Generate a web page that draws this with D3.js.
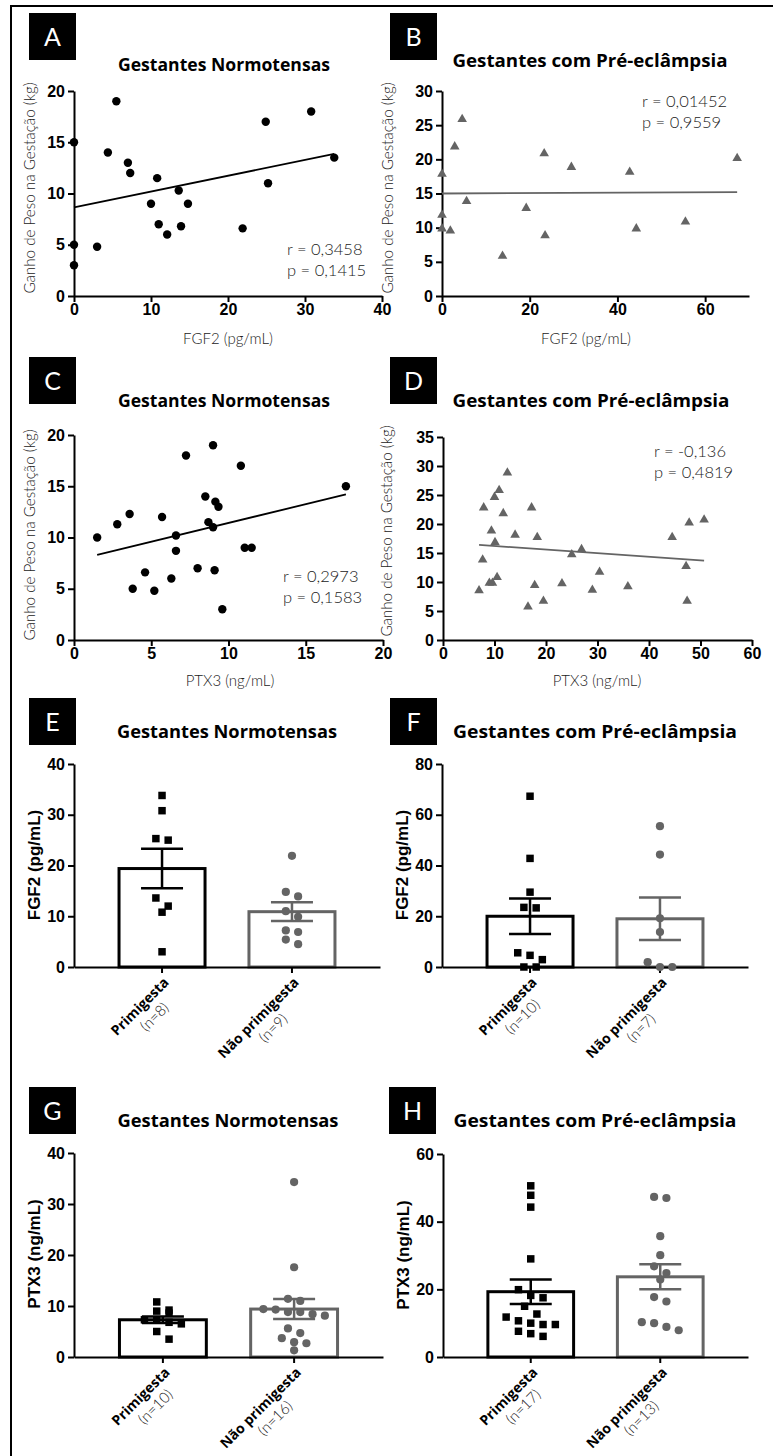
<!DOCTYPE html>
<html>
<head>
<meta charset="utf-8">
<title>FGF2 e PTX3 em gestantes</title>
<script src="https://d3js.org/d3.v7.min.js"></script>
<style>
  body { margin: 0; background: #fff; }
  svg { display: block; }
</style>
</head>
<body>
<svg id="grafico" width="773" height="1456"></svg>
<script>
// ---- dados ----
// A: FGF2 x ganho de peso (normotensas)
const fgf2Normo = [0, 0, 0, 3.0, 4.4, 5.5, 7.0, 7.3, 10.0, 10.8, 11.0, 12.1, 13.6, 13.9, 14.8, 21.9, 24.9, 25.2, 30.8, 33.8];
const pesoA = [15, 5, 3, 4.8, 14, 19, 13, 12, 9, 11.5, 7, 6, 10.3, 6.8, 9, 6.6, 17, 11, 18, 13.5];
const ajusteA = [8.65, 0.154]; // intercepto, inclinação
const estatA = ["r = 0,3458", "p = 0,1415"];

// B: FGF2 x ganho de peso (pré-eclâmpsia)
const fgf2Pre = [0, 0, 0, 1.9, 2.9, 4.6, 5.6, 13.8, 19.2, 23.3, 23.5, 29.5, 42.8, 44.3, 55.5, 67.3];
const pesoB = [18, 12, 10, 9.7, 22, 26, 14, 6, 13, 21, 9, 19, 18.3, 10, 11, 20.3];
const ajusteB = [15.0, 0.003];
const estatB = ["r = 0,01452", "p = 0,9559"];

// C: PTX3 x ganho de peso (normotensas)
const ptx3Normo = [1.5, 2.8, 3.6, 3.8, 4.6, 5.2, 5.7, 6.3, 6.6, 6.6, 7.25, 8.0, 8.5, 8.7, 9.0, 9.0, 9.15, 9.35, 9.1, 9.6, 10.8, 11.05, 11.5, 17.6];
const pesoC = [10, 11.3, 12.3, 5.0, 6.6, 4.8, 12.0, 6.0, 10.2, 8.7, 18.0, 7.0, 14.0, 11.5, 19.0, 11.0, 13.5, 13.0, 6.8, 3.0, 17.0, 9.0, 9.0, 15.0];
const ajusteC = [7.76, 0.366];
const estatC = ["r = 0,2973", "p = 0,1583"];

// D: PTX3 x ganho de peso (pré-eclâmpsia)
const ptx3Pre = [7.0, 7.9, 10.0, 10.9, 12.5, 9.4, 11.7, 10.1, 10.5, 9.0, 9.6, 7.7, 14.0, 17.2, 18.3, 17.8, 16.5, 19.5, 23.1, 25.0, 26.9, 29.0, 30.4, 35.9, 44.5, 47.2, 47.4, 47.8, 50.7];
const pesoD = [8.7, 23, 24.8, 26, 29, 19, 22, 17, 11, 10, 10, 14, 18.3, 23, 17.9, 9.6, 5.9, 6.9, 9.9, 14.9, 15.8, 8.8, 11.9, 9.4, 17.9, 12.9, 6.9, 20.4, 20.9];
const ajusteD = [16.83, -0.0618];
const estatD = ["r = -0,136", "p = 0,4819"];

// E-H: barras (média ± EPM) com pontos individuais
const categorias = ["Primigesta", "Não primigesta"];
const nE = ["(n=8)", "(n=9)"];
const nF = ["(n=10)", "(n=7)"];
const nG = ["(n=10)", "(n=16)"];
const nH = ["(n=17)", "(n=13)"];

const fgf2NormoPrim = [33.8, 30.8, 25.3, 25.0, 13.6, 12.0, 10.8, 3.0];
const fgf2NormoNao = [21.9, 14.8, 13.9, 11.0, 9.9, 7.2, 6.9, 5.4, 4.5];
const mediaE = [19.4, 10.9];
const epmE = [3.9, 1.85];

const fgf2PrePrim = [67.3, 42.8, 29.5, 23.5, 23.3, 5.6, 4.6, 2.9, 0, 0];
const fgf2PreNao = [55.5, 44.3, 19.2, 13.8, 1.9, 0, 0];
const mediaF = [20.0, 19.0];
const epmF = [7.0, 8.4];

const ptx3NormoPrim = [10.8, 9.2, 9.0, 8.6, 7.3, 7.2, 6.8, 6.5, 5.0, 3.5];
const ptx3NormoNao = [34.3, 17.6, 11.4, 11.0, 9.4, 9.3, 8.8, 8.8, 8.4, 8.1, 5.6, 4.7, 3.7, 2.9, 2.7, 1.3];
const mediaG = [7.3, 9.4];
const epmG = [0.65, 1.95];

const ptx3PrePrim = [50.6, 47.8, 44.3, 29.0, 19.9, 18.2, 17.5, 15.0, 12.7, 11.8, 10.7, 10.0, 9.6, 9.6, 7.6, 6.9, 6.1];
const ptx3PreNao = [47.3, 47.0, 35.7, 30.1, 26.8, 24.8, 22.9, 17.7, 16.4, 10.3, 10.0, 8.9, 7.9];
const mediaH = [19.3, 23.7];
const epmH = [3.6, 3.7];

// ---- estilo ----
const CINZA = "#646464";
const fonteNum = "'Liberation Sans', Arial, sans-serif";
const fonteTit = "'Open Sans', 'Noto Sans', sans-serif";
const fonteLeve = "Lato, 'Open Sans', sans-serif";

const svg = d3.select("#grafico");

// moldura (cortada à direita e embaixo)
svg.append("path")
  .attr("d", "M11,1456 V6 H773")
  .attr("fill", "none")
  .attr("stroke", "#000")
  .attr("stroke-width", 2);

function caixa(letra, x0, y0) {
  svg.append("rect").attr("x", x0).attr("y", y0).attr("width", 47).attr("height", 47).attr("fill", "#000");
  svg.append("text").attr("x", x0 + 23.5).attr("y", y0 + 33)
    .attr("text-anchor", "middle").attr("fill", "#fff")
    .attr("font-family", fonteLeve).attr("font-size", 25).text(letra);
}

function titulo(txt, x, y, larg) {
  svg.append("text").attr("x", x).attr("y", y).attr("text-anchor", "middle")
    .attr("font-family", fonteTit).attr("font-weight", 700).attr("font-size", 18.5)
    .attr("textLength", larg).attr("lengthAdjust", "spacingAndGlyphs")
    .attr("fill", "#000").text(txt);
}

function estiloEixo(g) {
  g.attr("font-family", fonteNum).attr("font-size", 16).attr("font-weight", "bold");
  g.select(".domain").attr("stroke-width", 2);
  g.selectAll(".tick line").attr("stroke-width", 2);
  g.selectAll(".tick text").attr("fill", "#000");
}

function eixoY(x0, y, ticks) {
  svg.append("g").attr("transform", `translate(${x0},0)`)
    .call(d3.axisLeft(y).tickValues(ticks).tickSize(6).tickSizeOuter(0).tickPadding(3))
    .call(estiloEixo);
}

function dispersao(p) {
  const x = d3.scaleLinear().domain(p.xDom).range(p.xR);
  const y = d3.scaleLinear().domain(p.yDom).range(p.yR);
  caixa(p.letra, p.caixa[0], p.caixa[1]);
  titulo(p.titulo, p.tit[0], p.tit[1], p.tit[2]);

  svg.append("g").attr("transform", `translate(0,${p.yR[0]})`)
    .call(d3.axisBottom(x).tickValues(p.xTicks).tickSize(6).tickSizeOuter(0).tickPadding(2))
    .call(estiloEixo);
  eixoY(p.xR[0], y, p.yTicks);

  // rótulos dos eixos
  svg.append("text")
    .attr("transform", `translate(${p.yTit[0]},${p.yTit[1]}) rotate(-90)`)
    .attr("text-anchor", "middle").attr("font-family", fonteLeve).attr("font-weight", 300)
    .attr("font-size", 15.2).attr("fill", "#222").text("Ganho de Peso na Gestação (kg)");
  svg.append("text").attr("x", p.xTit[0]).attr("y", p.xTit[1])
    .attr("text-anchor", "middle").attr("font-family", fonteLeve).attr("font-weight", 300)
    .attr("font-size", 15).attr("fill", "#222").text(p.xRot);

  // reta de regressão
  const ext = d3.extent(p.x);
  svg.append("line")
    .attr("x1", x(ext[0])).attr("y1", y(p.ajuste[0] + p.ajuste[1] * ext[0]))
    .attr("x2", x(ext[1])).attr("y2", y(p.ajuste[0] + p.ajuste[1] * ext[1]))
    .attr("stroke", p.cor).attr("stroke-width", 1.8);

  // pontos
  const pts = p.x.map((v, i) => ({ x: v, y: p.y[i] }));
  if (p.forma === "circulo") {
    svg.append("g").selectAll("circle").data(pts).join("circle")
      .attr("cx", d => x(d.x)).attr("cy", d => y(d.y)).attr("r", 4.2).attr("fill", p.cor);
  } else {
    svg.append("g").selectAll("path").data(pts).join("path")
      .attr("transform", d => `translate(${x(d.x)},${y(d.y) + 1})`)
      .attr("d", d3.symbol(d3.symbolTriangle, 40)).attr("fill", p.cor);
  }

  // estatística
  p.estat.forEach((t, i) => {
    svg.append("text").attr("x", p.est[0]).attr("y", p.est[1] + i * 21)
      .attr("font-family", fonteLeve).attr("font-weight", 300).attr("font-size", 16.5)
      .attr("fill", "#222").text(t);
  });
}

// distribui pontos de valores próximos lado a lado (como no GraphPad)
function enxame(vals, y, alt, passo) {
  const ord = vals.map((v, i) => ({ v, i })).sort((a, b) => b.v - a.v);
  const desl = new Array(vals.length);
  let fila = [];
  const fechar = () => {
    fila.forEach((q, k) => { desl[q.i] = (k - (fila.length - 1) / 2) * passo; });
    fila = [];
  };
  ord.forEach(q => {
    if (fila.length && y(q.v) - y(fila[0].v) > alt) fechar();
    fila.push(q);
  });
  fechar();
  return desl;
}

function barras(p) {
  const x = d3.scaleBand().domain(categorias).range(p.xR).paddingInner(0.315).paddingOuter(0.335);
  const y = d3.scaleLinear().domain(p.yDom).range(p.yR);
  caixa(p.letra, p.caixa[0], p.caixa[1]);
  titulo(p.titulo, p.tit[0], p.tit[1], p.tit[2]);
  const cores = ["#000", CINZA];

  // barras
  svg.append("g").selectAll("rect").data(categorias).join("rect")
    .attr("x", d => x(d) + 1.5).attr("width", x.bandwidth() - 3)
    .attr("y", (d, i) => y(p.media[i])).attr("height", (d, i) => y(0) - y(p.media[i]))
    .attr("fill", "#fff").attr("stroke", (d, i) => cores[i]).attr("stroke-width", 3);

  // eixos
  svg.append("g").attr("transform", `translate(0,${p.yR[0]})`)
    .call(d3.axisBottom(x).tickSize(6).tickSizeOuter(0).tickFormat(""))
    .call(estiloEixo);
  eixoY(p.xR[0], y, p.yTicks);

  // erro padrão
  categorias.forEach((c, i) => {
    const cx = x(c) + x.bandwidth() / 2;
    const lo = y(p.media[i] - p.epm[i]), hi = y(p.media[i] + p.epm[i]);
    const g = svg.append("g").attr("stroke", cores[i]).attr("stroke-width", 2.5);
    g.append("line").attr("x1", cx).attr("x2", cx).attr("y1", lo).attr("y2", hi);
    g.append("line").attr("x1", cx - 21).attr("x2", cx + 21).attr("y1", lo).attr("y2", lo);
    g.append("line").attr("x1", cx - 21).attr("x2", cx + 21).attr("y1", hi).attr("y2", hi);
  });

  // pontos individuais
  const cx0 = x(categorias[0]) + x.bandwidth() / 2;
  const cx1 = x(categorias[1]) + x.bandwidth() / 2;
  const d0 = enxame(p.grupo0, y, 8.5, 12.3);
  const d1 = enxame(p.grupo1, y, 8.5, 12.3);
  svg.append("g").selectAll("path").data(p.grupo0).join("path")
    .attr("transform", (v, i) => `translate(${cx0 + d0[i]},${y(v)})`)
    .attr("d", d3.symbol(d3.symbolSquare, 56)).attr("fill", "#000");
  svg.append("g").selectAll("circle").data(p.grupo1).join("circle")
    .attr("cx", (v, i) => cx1 + d1[i]).attr("cy", v => y(v)).attr("r", 4.1).attr("fill", CINZA);

  // rótulos das categorias (girados)
  categorias.forEach((c, i) => {
    const cx = x(c) + x.bandwidth() / 2;
    const g = svg.append("g").attr("transform", `translate(${cx},${p.yR[0]}) rotate(-45)`);
    const t1 = g.append("text").attr("x", -6).attr("y", 17).attr("text-anchor", "end")
      .attr("font-family", fonteTit).attr("font-weight", 700).attr("font-size", 14)
      .attr("fill", "#000").text(c);
    const w = t1.node().getComputedTextLength();
    g.append("text").attr("x", -6 - w / 2 + 3).attr("y", 35).attr("text-anchor", "middle")
      .attr("font-family", fonteLeve).attr("font-weight", 300).attr("font-size", 15)
      .attr("fill", "#222").text(p.n[i]);
  });

  svg.append("text")
    .attr("transform", `translate(${p.yTit[0]},${p.yTit[1]}) rotate(-90)`)
    .attr("text-anchor", "middle").attr("font-family", fonteNum).attr("font-weight", "bold")
    .attr("font-size", 17).attr("fill", "#000").text(p.yRot);
}

// ---- painéis ----
dispersao({ letra: "A", caixa: [29, 13], titulo: "Gestantes Normotensas", tit: [224, 71, 212],
  x: fgf2Normo, y: pesoA, xDom: [0, 40], xTicks: [0, 10, 20, 30, 40], xR: [74, 382],
  yDom: [0, 20], yTicks: [0, 5, 10, 15, 20], yR: [296, 91], ajuste: ajusteA, estat: estatA,
  est: [287, 255], cor: "#000", forma: "circulo", xRot: "FGF2 (pg/mL)", xTit: [228, 344], yTit: [35, 188] });

dispersao({ letra: "B", caixa: [390, 13], titulo: "Gestantes com Pré-eclâmpsia", tit: [590, 67, 275],
  x: fgf2Pre, y: pesoB, xDom: [0, 70], xTicks: [0, 20, 40, 60], xR: [442, 749],
  yDom: [0, 30], yTicks: [0, 5, 10, 15, 20, 25, 30], yR: [296, 91], ajuste: ajusteB, estat: estatB,
  est: [642, 107], cor: CINZA, forma: "triangulo", xRot: "FGF2 (pg/mL)", xTit: [586, 344], yTit: [393, 188] });

dispersao({ letra: "C", caixa: [29, 357], titulo: "Gestantes Normotensas", tit: [224, 407, 212],
  x: ptx3Normo, y: pesoC, xDom: [0, 20], xTicks: [0, 5, 10, 15, 20], xR: [74, 383],
  yDom: [0, 20], yTicks: [0, 5, 10, 15, 20], yR: [640, 435], ajuste: ajusteC, estat: estatC,
  est: [283, 582], cor: "#000", forma: "circulo", xRot: "PTX3 (ng/mL)", xTit: [230, 686], yTit: [35, 535] });

dispersao({ letra: "D", caixa: [390, 357], titulo: "Gestantes com Pré-eclâmpsia", tit: [591, 407, 277],
  x: ptx3Pre, y: pesoD, xDom: [0, 60], xTicks: [0, 10, 20, 30, 40, 50, 60], xR: [443, 752],
  yDom: [0, 35], yTicks: [0, 5, 10, 15, 20, 25, 30, 35], yR: [640, 437], ajuste: ajusteD, estat: estatD,
  est: [654, 457], cor: CINZA, forma: "triangulo", xRot: "PTX3 (ng/mL)", xTit: [597, 686], yTit: [392, 531] });

barras({ letra: "E", caixa: [29, 698], titulo: "Gestantes Normotensas", tit: [227, 738, 220],
  grupo0: fgf2NormoPrim, grupo1: fgf2NormoNao, media: mediaE, epm: epmE, n: nE,
  xR: [74, 380], yDom: [0, 40], yTicks: [0, 10, 20, 30, 40], yR: [967, 764],
  yRot: "FGF2 (pg/mL)", yTit: [40, 865] });

barras({ letra: "F", caixa: [390, 698], titulo: "Gestantes com Pré-eclâmpsia", tit: [595, 738, 284],
  grupo0: fgf2PrePrim, grupo1: fgf2PreNao, media: mediaF, epm: epmF, n: nF,
  xR: [442, 748], yDom: [0, 80], yTicks: [0, 20, 40, 60, 80], yR: [967, 764],
  yRot: "FGF2 (pg/mL)", yTit: [408, 865] });

barras({ letra: "G", caixa: [29, 1087], titulo: "Gestantes Normotensas", tit: [228, 1127, 221],
  grupo0: ptx3NormoPrim, grupo1: ptx3NormoNao, media: mediaG, epm: epmG, n: nG,
  xR: [74, 383], yDom: [0, 40], yTicks: [0, 10, 20, 30, 40], yR: [1357, 1153],
  yRot: "PTX3 (ng/mL)", yTit: [40, 1254] });

barras({ letra: "H", caixa: [389, 1087], titulo: "Gestantes com Pré-eclâmpsia", tit: [595, 1127, 283],
  grupo0: ptx3PrePrim, grupo1: ptx3PreNao, media: mediaH, epm: epmH, n: nH,
  xR: [443, 748], yDom: [0, 60], yTicks: [0, 20, 40, 60], yR: [1357, 1154],
  yRot: "PTX3 (ng/mL)", yTit: [409, 1255] });
</script>
</body>
</html>
